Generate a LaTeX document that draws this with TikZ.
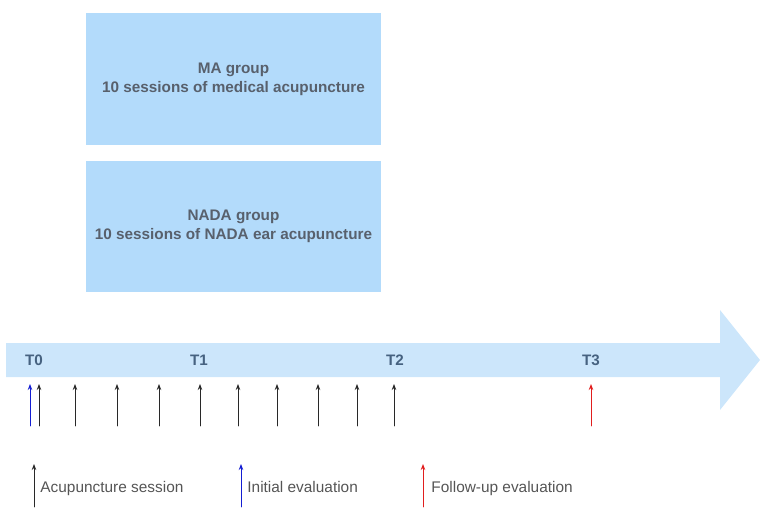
\documentclass[tikz,border=0pt]{standalone}
\usepackage{fontspec}
\setmainfont{Liberation Sans}
\usetikzlibrary{arrows.meta}
\definecolor{boxblue}{RGB}{179,219,251}
\definecolor{bandblue}{RGB}{204,230,251}
\definecolor{boxtext}{RGB}{88,96,108}
\definecolor{tlabel}{RGB}{70,98,128}
\definecolor{legtext}{RGB}{85,85,85}
\definecolor{sesblack}{RGB}{40,40,40}
\definecolor{evalblue}{RGB}{20,30,210}
\definecolor{evalred}{RGB}{225,30,30}
\begin{document}
\begin{tikzpicture}[x=1pt, y=-1pt, line cap=round, line width=0.9pt, >={Stealth[length=6pt,width=4.5pt]},
    grp/.style={fill=boxblue, text=boxtext, font=\fontsize{15.3}{19}\selectfont\bfseries, align=center, minimum width=295, minimum height=132, inner sep=0},
    tmark/.style={text=tlabel, font=\fontsize{15.2}{16}\selectfont\bfseries},
    legend/.style={text=legtext, font=\fontsize{15.4}{17}\selectfont, anchor=base west, inner sep=0}]
    \useasboundingbox (0,0) rectangle (764,514);
    % groups
    \node[grp] (ma) at (233.5,79) {MA group\\10 sessions of medical acupuncture};
    \node[grp, minimum height=131] (nada) at (233.5,226.5) {NADA group\\10 sessions of NADA ear acupuncture};
    % time line
    \fill[bandblue] (6,343)--(720,343)--(720,310)--(760,360)--(720,410)--(720,377)--(6,377)--cycle;
    \foreach \t/\x in {0/34,1/199,2/395,3/591} \node[tmark] (T\t) at (\x,360) {T\t};
    % sessions
    \foreach \x [count=\i] in {39,75,117,159,200,238,277,318,357,394} {
        \coordinate (sb\i) at (\x,426); \coordinate (st\i) at (\x,384);
        \draw[->, sesblack] (sb\i)--(st\i);
    }
    \coordinate (ib) at (30,426); \coordinate (it) at (30,384);
    \draw[->, evalblue] (ib)--(it);
    \coordinate (fb) at (591,426); \coordinate (ft) at (591,384);
    \draw[->, evalred] (fb)--(ft);
    % legend
    \coordinate (la) at (34,507); \coordinate (lb) at (34,464);
    \draw[->, sesblack] (la)--(lb);
    \node[legend] (lsession) at (40,492) {Acupuncture session};
    \coordinate (lc) at (241,507); \coordinate (ld) at (241,464);
    \draw[->, evalblue] (lc)--(ld);
    \node[legend] (linit) at (247,492) {Initial evaluation};
    \coordinate (le) at (423,507); \coordinate (lf) at (423,464);
    \draw[->, evalred] (le)--(lf);
    \node[legend] (lfollow) at (431,492) {Follow-up evaluation};
\end{tikzpicture}
\end{document}
